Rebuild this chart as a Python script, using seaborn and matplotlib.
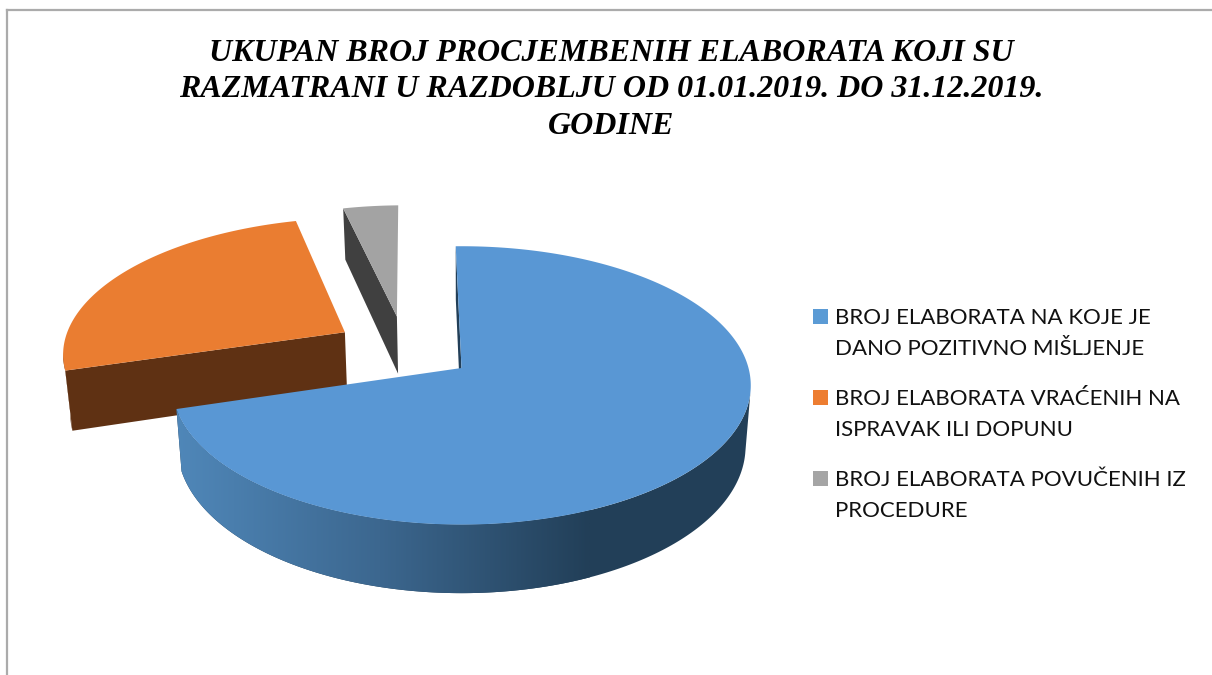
import numpy as np
import seaborn as sns
from matplotlib import pyplot as plt
from matplotlib.colors import to_rgb
from matplotlib.patches import Polygon, Rectangle

categories = ['BROJ ELABORATA NA KOJE JE\nDANO POZITIVNO MIŠLJENJE',
              'BROJ ELABORATA VRAĆENIH NA\nISPRAVAK ILI DOPUNU',
              'BROJ ELABORATA POVUČENIH IZ\nPROCEDURE']
shares = [70.7, 25.7, 3.6]
title = ('UKUPAN BROJ PROCJEMBENIH ELABORATA KOJI SU\n'
         'RAZMATRANI U RAZDOBLJU OD 01.01.2019. DO 31.12.2019.\n'
         'GODINE')

top_colors = ['#5997D4', '#EA7D31', '#A3A3A3']
key_colors = ['#5B9BD5', '#ED7D31', '#A5A5A5']
wall_colors = ['#223F58', '#5F3113', '#404040']
blue_wall_ramp = sns.blend_palette(['#5088BA', '#3C678F', '#223F58'], 256)

# pie geometry on the page, in pixels
cx, cy = 461.5, 368
rx, ry = 287, 137
persp = 0.125
depth = 60
shrink = 0.018
explode = 0.25
first_angle = -1.3


def project(x, y, z=0.0):
    s = 1 / (1 + persp * y)
    return (cx + rx * x * s * (1 - shrink * z), cy - ry * y * s + depth * s * z)


sns.set_theme(style='white')
fig = plt.figure(figsize=(12.12, 6.75), dpi=100, facecolor='white')
ax = fig.add_axes([7 / 1212, 0, 1 - 7 / 1212, 665 / 675])
ax.set_xticks([])
ax.set_yticks([])
sns.despine(ax=ax, top=False, right=True, left=False, bottom=True)
for side in ['top', 'left']:
    ax.spines[side].set_color('#ABABAB')
    ax.spines[side].set_linewidth(1.6)

# slice angles, clockwise from 12 o'clock
sweep = np.array(shares) / sum(shares) * 360
starts = first_angle + np.concatenate([[0], np.cumsum(sweep)[:-1]])
mids = np.radians(starts + sweep / 2)
# the first slice sits on the page anchor, the others are moved relative to it
ox = explode * (np.sin(mids) - np.sin(mids[0]))
oy = explode * (np.cos(mids) - np.cos(mids[0]))

for i in [2, 1, 0]:
    t = np.radians(np.linspace(starts[i], starts[i] + sweep[i], 300))
    x = ox[i] + np.sin(t)
    y = oy[i] + np.cos(t)
    z_order = 3 - i

    # only the wall along the start edge can show
    quad = [project(ox[i], oy[i]), project(x[0], y[0]),
            project(x[0], y[0], 1), project(ox[i], oy[i], 1)]
    ax.add_patch(Polygon(quad, fc=wall_colors[i], ec='none', zorder=z_order))

    # rim from the widest point of the ellipse round the front
    front = np.cos(t) < -0.15
    if front.any():
        upper = [project(a, b) for a, b in zip(x[front], y[front])]
        lower = [project(a, b, 1) for a, b in zip(x[front], y[front])]
        rim = Polygon(upper + lower[::-1], fc=wall_colors[i], ec='none', zorder=z_order)
        ax.add_patch(rim)
        if i == 0:
            ramp = np.array([to_rgb(c) for c in blue_wall_ramp])[np.newaxis, :, :]
            img = ax.imshow(ramp, extent=(170, 590, 600, 380), aspect='auto', zorder=z_order + 0.2)
            img.set_clip_path(rim)

    face = [project(ox[i], oy[i])] + [project(a, b) for a, b in zip(x, y)]
    ax.add_patch(Polygon(face, fc=top_colors[i], ec='none', zorder=z_order + 0.5))

ax.set_xlim(7, 1212)
ax.set_ylim(675, 10)

ax.text(611, 90, title, ha='center', va='center', family='Liberation Serif',
        weight='bold', style='italic', fontsize=23, linespacing=1.35, color='black')

for i, label in enumerate(categories):
    y_first = 316 + 81 * i
    ax.add_patch(Rectangle((813, y_first - 7), 15, 15, fc=key_colors[i], ec='none'))
    ax.text(835, y_first + 17.5, label, ha='left', va='center', family='Lato',
            fontsize=16, linespacing=1.7, color='#111111')

plt.savefig('out.png', dpi=100)
plt.close()
